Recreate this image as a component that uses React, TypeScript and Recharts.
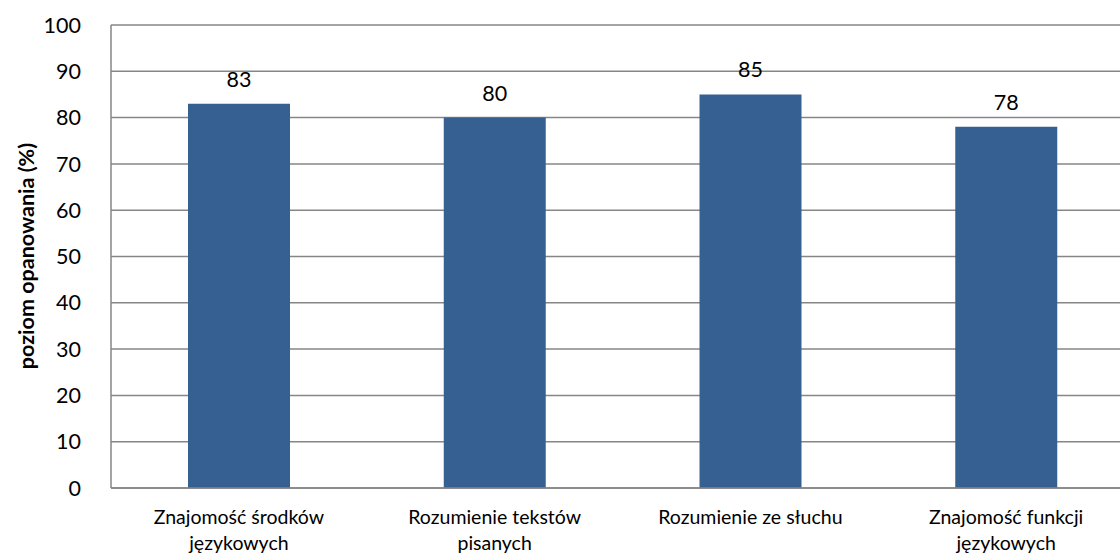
import React from 'react';
import {
  BarChart,
  Bar,
  XAxis,
  YAxis,
  CartesianGrid,
  LabelList
} from 'recharts';

const categories = [
  'Znajomość środków językowych',
  'Rozumienie tekstów pisanych',
  'Rozumienie ze słuchu',
  'Znajomość funkcji językowych'
];
// wrapped lines of the category names, as in the picture
const categoryLines = [
  ['Znajomość środków', 'językowych'],
  ['Rozumienie tekstów', 'pisanych'],
  ['Rozumienie ze słuchu'],
  ['Znajomość funkcji', 'językowych']
];
const values = [83, 80, 85, 78];
const yTicks = [0, 10, 20, 30, 40, 50, 60, 70, 80, 90, 100];

const data = categories.map((name, i) => ({ name, value: values[i], idx: i }));

const FONT = 'Lato, "Open Sans", sans-serif';

// Two-line category label under the axis
const CategoryTick = (props: any) => {
  const { x, y, index } = props;
  const lines = categoryLines[index] || [];
  return (
    <g transform={`translate(${x},${y})`}>
      {lines.map((line, i) => (
        <text
          key={i}
          x={0}
          y={28 + i * 26}
          textAnchor="middle"
          fontSize={19.5}
          fontFamily={FONT}
          fill="#000"
        >
          {line}
        </text>
      ))}
    </g>
  );
};

const AxisTitle = () => (
  <text
    x={26}
    y={256}
    transform="rotate(-90, 26, 256)"
    textAnchor="middle"
    dominantBaseline="central"
    fontSize={21.5}
    fontWeight="bold"
    fontFamily={FONT}
    fill="#000"
  >
    poziom opanowania (%)
  </text>
);

export default function App() {
  return (
    <div
      style={{
        position: 'absolute',
        left: 0,
        top: 0,
        width: 1120,
        height: 554,
        overflow: 'hidden',
        background: '#fff'
      }}
    >
      <BarChart
        width={1134}
        height={554}
        data={data}
        margin={{ top: 25, right: 0, bottom: 0, left: 0 }}
      >
        <CartesianGrid
          vertical={false}
          stroke="#868686"
          strokeWidth={1.5}
        />
        <XAxis
          dataKey="name"
          height={66}
          axisLine={{ stroke: '#868686', strokeWidth: 1.5 }}
          tickLine={false}
          interval={0}
          tick={<CategoryTick />}
        />
        <YAxis
          width={111}
          domain={[0, 100]}
          ticks={yTicks}
          interval={0}
          axisLine={{ stroke: '#868686', strokeWidth: 1.5 }}
          tickLine={false}
          tickMargin={24}
          tick={{ fontSize: 21.5, fill: '#000', fontFamily: FONT }}
        />
        <Bar
          dataKey="value"
          fill="#376092"
          barSize={102}
          isAnimationActive={false}
        >
          <LabelList
            dataKey="value"
            position="top"
            offset={17}
            style={{ fontSize: 21.5, fill: '#000', fontFamily: FONT }}
          />
        </Bar>
        <AxisTitle />
      </BarChart>
    </div>
  );
}
